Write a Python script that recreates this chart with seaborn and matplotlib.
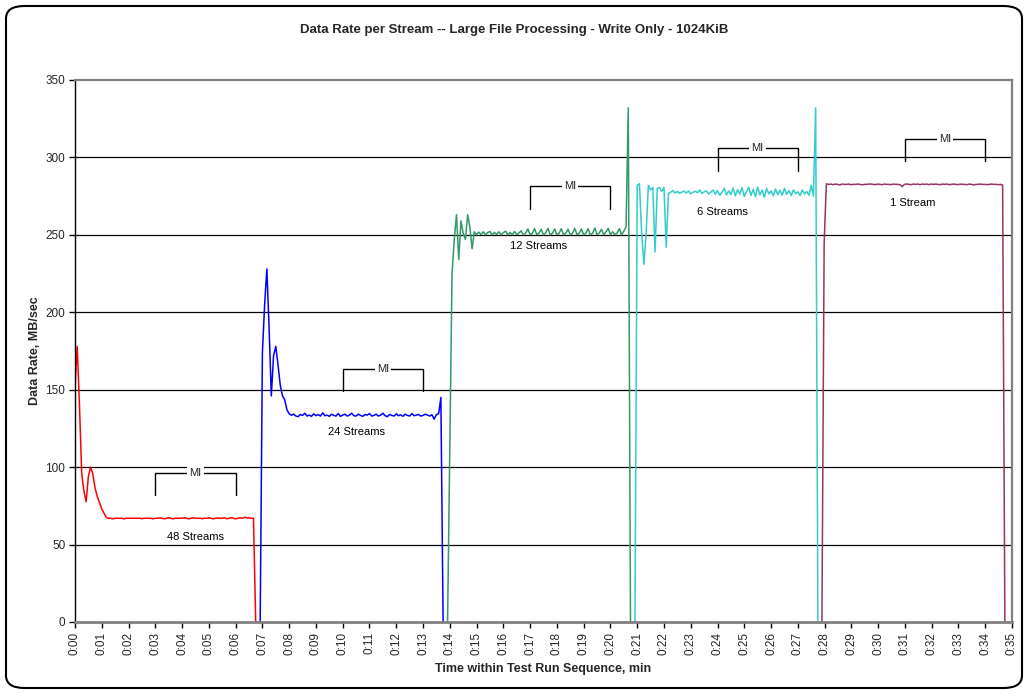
import numpy as np
import pandas as pd
import matplotlib
matplotlib.use("Agg")
import matplotlib.pyplot as plt
from matplotlib.patches import FancyBboxPatch
import seaborn as sns

# ---------------- data (5-second samples, minutes) ----------------
series_names = ["48 Streams", "24 Streams", "12 Streams", "6 Streams", "1 Stream"]
series_colors = ["#FF0000", "#0000FF", "#339966", "#33CCCC", "#993366"]
sample_step = 1.0 / 12.0
series_start = [0.0, 83 / 12, 167 / 12, 251 / 12, 27.9]

rate_48 = [152, 178, 140, 96, 84.5, 77.7, 94, 100, 95.5, 86.5, 81, 77, 73, 70.3, 67.5,
           67.0, 67.0, 66.6, 67.0, 67.0, 67.0, 67.0, 66.6, 67.0, 67.0,
           67.0, 67.0, 67.0, 67.0, 67.0, 66.7, 67.0, 67.0, 67.0, 67.0,
           66.6, 67.0, 67.0, 67.2, 67.0, 66.6, 67.0, 67.3, 67.0, 66.6,
           67.0, 67.0, 67.0, 67.0, 67.3, 67.0, 66.6, 67.0, 67.3, 67.0,
           67.0, 67.0, 66.7, 67.0, 67.0, 67.3, 67.0, 66.6, 67.0, 67.2,
           67.0, 67.0, 67.3, 66.7, 67.0, 67.3, 67.0, 66.6, 67.0, 67.3,
           67.0, 67.6, 67.2, 67.3, 67.0, 67.0,
           0, 0]
rate_24 = [0, 174, 205, 228, 190, 146, 172, 178, 166, 153, 146, 143.5, 137, 134.5,
           133.5, 134.3, 133.0, 132.6, 134.0, 133.4, 134.8, 133.0, 133.6, 132.8,
           134.4, 133.2, 134.0, 133.0, 135.0, 133.2, 133.6, 132.8, 134.2, 133.4,
           133.0, 134.6, 132.8, 133.6, 134.2, 133.0, 133.6, 134.8, 133.2, 133.0,
           134.2, 133.4, 132.8, 134.0, 133.6, 134.6, 133.0, 133.4, 134.2, 133.0,
           133.6, 134.8, 133.2, 132.6, 134.0, 133.4, 133.0, 134.4, 133.2, 133.8,
           132.8, 134.2, 133.4, 133.0, 134.6, 133.2, 133.6, 134.0, 133.0, 133.4,
           134.2, 133.6, 133.0, 133.8,
           131, 134, 134.5, 145, 0]
rate_12 = [0, 112, 225, 247, 263, 234, 259, 251, 247, 263, 255, 241, 252,
           250.0, 251.8, 250.2, 252.0, 250.0, 251.5, 252.2, 250.0, 251.6, 250.2,
           252.0, 250.0, 251.4, 252.4, 250.0, 251.6, 250.0, 252.2, 250.2, 251.2,
           252.6, 250.0, 251.2, 253.8, 250.0, 251.0, 254.0, 250.2, 251.2, 253.6,
           250.0, 251.4, 254.2, 250.0, 251.0, 253.8, 250.2, 251.0, 254.0, 250.0,
           251.2, 253.6, 250.0, 251.0, 254.2, 250.2, 251.0, 253.8, 250.0, 251.2,
           254.0, 250.0, 251.0, 254.4, 250.2, 251.2, 253.6, 250.0, 252.0, 254.2,
           250.2, 252.0, 250.0, 251.2, 254.0, 250.0, 252.4,
           255, 332, 0]
rate_6 = [0, 282, 283, 251, 231, 251, 282, 279, 280.6, 239, 280, 280.6, 278, 280.6, 242, 276.7,
          277.5, 278.6, 277.0, 278.0, 276.8, 277.6, 278.2, 277.0, 278.4, 276.6,
          277.4, 278.2, 277.2, 279.0, 276.8, 277.8, 278.4, 276.4, 277.6, 279.0,
          276.2, 278.6, 275.6, 277.4, 280.0, 275.8, 278.4, 276.0, 280.2, 275.2,
          279.2, 276.4, 280.4, 274.8, 278.0, 280.8, 275.4, 279.4, 274.6, 280.8,
          275.8, 279.0, 274.2, 280.0, 276.4, 278.4, 275.2, 279.6, 276.0, 278.8,
          275.6, 280.0, 276.2, 278.6, 275.4, 279.0, 276.6, 277.8, 275.4, 279.0,
          276.4, 278.0, 275.6, 282, 275, 332, 0]
rate_1 = [0, 245, 283,
          282.6, 282.8, 282.4, 282.8, 282.6, 282.2, 282.8, 282.6, 282.6, 282.8,
          282.4, 282.6, 282.6, 282.8, 282.6, 282.3, 282.6, 282.6, 282.8, 282.8,
          282.6, 282.4, 282.8, 282.6, 282.4, 282.8, 282.6, 282.6, 282.4, 282.8,
          282.6, 282.6, 282.4, 281.2, 282.6, 282.8, 282.6, 282.4, 282.8, 282.6,
          282.8, 282.4, 282.8, 282.6, 282.8, 282.4, 282.8, 282.6, 282.8, 282.6,
          282.4, 282.8, 282.6, 282.8, 282.4, 282.6, 282.8, 282.6, 282.4, 282.8,
          282.6, 282.6, 282.4, 282.8, 282.6, 282.2, 282.6, 282.6, 282.8, 282.6,
          282.6, 282.4, 282.6, 282.8, 282.6, 282.6, 282.4, 282.6,
          282.2, 0]
series_rates = [rate_48, rate_24, rate_12, rate_6, rate_1]

# MI bracket spans (min) and series label positions
mi_start = [3, 10, 17, 24, 31]
mi_end = [6, 13, 20, 27, 34]
mi_level = [96.5, 163.5, 281.5, 306, 312]
label_x = [4.5, 10.5, 17.3, 24.2, 31.3]
label_y = [55, 122.5, 242.5, 265, 270.5]

x_ticks = list(range(0, 36))
x_tick_labels = ["0:%02d" % m for m in x_ticks]
y_ticks = [0, 50, 100, 150, 200, 250, 300, 350]

# ---------------- build table ----------------
rows = []
for name, start, rates in zip(series_names, series_start, series_rates):
    for k, v in enumerate(rates):
        rows.append({"time": start + k * sample_step, "rate": v, "series": name})
df = pd.DataFrame(rows)

# ---------------- plotting ----------------
sns.set_theme(style="white")
plt.rcParams["font.family"] = ["Liberation Sans", "DejaVu Sans"]

fig = plt.figure(figsize=(10.28, 6.94), dpi=100)
ax = fig.add_axes([75 / 1028, 1 - 622 / 694, (1012 - 75) / 1028, (622 - 80) / 694])

for yv in y_ticks[1:-1]:
    ax.axhline(yv, color="black", lw=0.9, zorder=0)

sns.lineplot(data=df, x="time", y="rate", hue="series", hue_order=series_names,
             palette=dict(zip(series_names, series_colors)), sort=False,
             estimator=None, legend=False, lw=1.1, ax=ax)

for s, e, lvl in zip(mi_start, mi_end, mi_level):
    ax.plot([s, s, e, e], [lvl - 14.5, lvl, lvl, lvl - 14.5], color="black", lw=1.0,
            solid_joinstyle="miter", zorder=3)
    ax.text((s + e) / 2, lvl, "MI", ha="center", va="center", fontsize=8,
            bbox=dict(facecolor="white", edgecolor="none", pad=1.5), zorder=4)

for name, lx, ly in zip(series_names, label_x, label_y):
    ax.text(lx, ly, name, ha="center", va="center", fontsize=8, color="black", zorder=4)

ax.set_xlim(0, 35)
ax.set_ylim(0, 350)
ax.set_xticks(x_ticks)
ax.set_xticklabels(x_tick_labels, rotation=90, fontsize=8.5)
ax.set_yticks(y_ticks)
ax.set_yticklabels([str(v) for v in y_ticks], fontsize=8.5)
ax.tick_params(axis="both", which="both", direction="out", length=4, width=1,
               color="black", bottom=True, left=True, pad=3)
ax.set_xlabel("Time within Test Run Sequence, min", fontsize=9, fontweight="bold", labelpad=6)
ax.set_ylabel("Data Rate, MB/sec", fontsize=9, fontweight="bold", labelpad=3)
fig.text(0.5, 1 - 30 / 694, "Data Rate per Stream -- Large File Processing - Write Only - 1024KiB",
         ha="center", va="center", fontsize=9.5, fontweight="bold")

ax.spines["left"].set_color("black")
ax.spines["left"].set_linewidth(1.0)
ax.spines["bottom"].set_color("#808080")
ax.spines["bottom"].set_linewidth(2.0)
ax.spines["top"].set_color("#808080")
ax.spines["top"].set_linewidth(1.6)
ax.spines["right"].set_color("#808080")
ax.spines["right"].set_linewidth(1.6)

border = FancyBboxPatch((6 / 1028, 6 / 694), 1016 / 1028, 682 / 694,
                        boxstyle="round,pad=0,rounding_size=0.018",
                        transform=fig.transFigure, facecolor="none",
                        edgecolor="black", lw=1.5)
fig.patches.append(border)

fig.savefig("out.png", dpi=100)
